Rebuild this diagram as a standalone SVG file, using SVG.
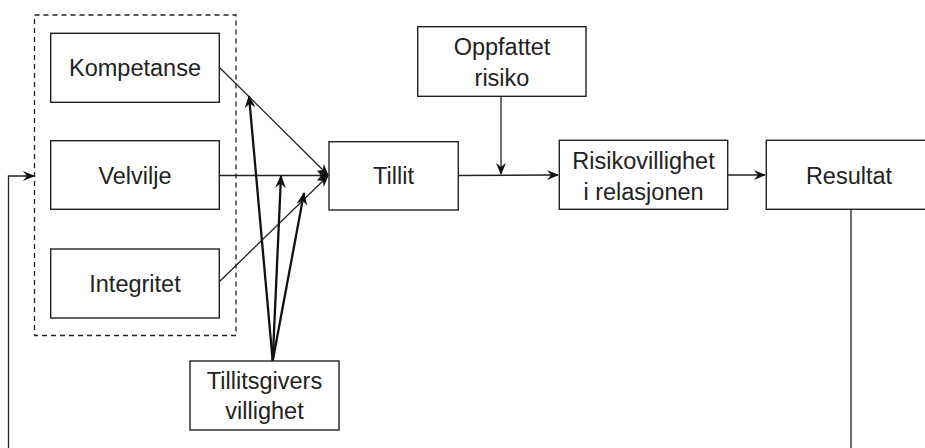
<svg xmlns="http://www.w3.org/2000/svg" width="925" height="448" viewBox="0 0 925 448">
<defs>
<style>
.box{fill:#fff;stroke:#222;stroke-width:1.4}
.lbl{font-family:"Liberation Sans",Arial,sans-serif;font-size:23.5px;fill:#222;text-anchor:middle}
.c{fill:none;stroke:#222;stroke-width:1.3}
.t{fill:none;stroke:#111;stroke-width:2.3}
</style>
<marker id="ah" viewBox="0 0 12 10" refX="11" refY="5" markerWidth="12" markerHeight="10" markerUnits="userSpaceOnUse" orient="auto">
<path d="M0,0 L12,5 L0,10 L4,5 Z" fill="#111"/>
</marker>
<marker id="ahb" viewBox="0 0 12 10" refX="11" refY="5" markerWidth="13" markerHeight="11" markerUnits="userSpaceOnUse" orient="auto">
<path d="M0,0 L12,5 L0,10 L4,5 Z" fill="#111"/>
</marker>
</defs>
<rect width="925" height="448" fill="#fff"/>
<g id="group">
<rect x="34.5" y="15" width="201.5" height="320.5" fill="none" stroke="#222" stroke-width="1.3" stroke-dasharray="5,4"/>
</g>
<g id="connectors">
<path class="c" d="M219,67 L328,175" marker-end="url(#ah)"/>
<path class="c" d="M219,175.5 L328,175.5" marker-end="url(#ah)"/>
<path class="c" d="M219,282 L328,176" marker-end="url(#ah)"/>
<path class="t" d="M272.7,361 L249,96" marker-end="url(#ahb)"/>
<path class="t" d="M272.7,361 L281,176" marker-end="url(#ahb)"/>
<path class="t" d="M272.7,361 L304,193" marker-end="url(#ahb)"/>
<path class="c" d="M458,175.5 L558,175" marker-end="url(#ah)"/>
<path class="c" d="M501,96.5 L501,174" marker-end="url(#ah)"/>
<path class="c" d="M728,175 L765,175" marker-end="url(#ah)"/>
<path class="c" d="M851,209 L851,448"/>
<path class="c" d="M8.5,448 L8.5,176 L34,176" marker-end="url(#ah)"/>
</g>
<g id="kompetanse">
<rect class="box" x="50.7" y="33.3" width="168.6" height="69"/>
<text class="lbl" x="135" y="76">Kompetanse</text>
</g>
<g id="velvilje">
<rect class="box" x="50.7" y="140.7" width="168.6" height="68.6"/>
<text class="lbl" x="135" y="183.5">Velvilje</text>
</g>
<g id="integritet">
<rect class="box" x="50.7" y="249" width="168.6" height="69"/>
<text class="lbl" x="135" y="291.5">Integritet</text>
</g>
<g id="tillit">
<rect class="box" x="329" y="141.7" width="129.3" height="68.3"/>
<text class="lbl" x="393.5" y="184">Tillit</text>
</g>
<g id="oppfattet">
<rect class="box" x="417.7" y="26.7" width="168.3" height="69.6"/>
<text class="lbl" x="502" y="54.5">Oppfattet</text>
<text class="lbl" x="502" y="85.5">risiko</text>
</g>
<g id="risikovillighet">
<rect class="box" x="559.3" y="140.3" width="168.4" height="69"/>
<text class="lbl" x="643.5" y="168.5">Risikovillighet</text>
<text class="lbl" x="643.5" y="199.5">i relasjonen</text>
</g>
<g id="resultat">
<rect class="box" x="766.3" y="140.3" width="170" height="69"/>
<text class="lbl" x="849" y="183.5">Resultat</text>
</g>
<g id="villighet">
<rect class="box" x="190" y="361" width="149" height="69"/>
<text class="lbl" x="264.5" y="388.5">Tillitsgivers</text>
<text class="lbl" x="264.5" y="418.5">villighet</text>
</g>
</svg>
